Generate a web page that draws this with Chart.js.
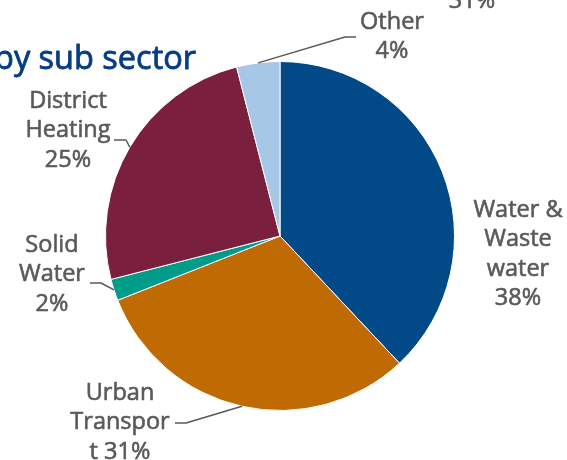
<!DOCTYPE html>
<html>
<head>
<meta charset="utf-8">
<script src="https://cdn.jsdelivr.net/npm/chart.js@4/dist/chart.umd.min.js"></script>
<style>
  html, body { margin: 0; padding: 0; background: #ffffff; }
  #wrap { width: 567px; height: 460px; position: relative; }
</style>
</head>
<body>
<div id="wrap"><canvas id="c" width="567" height="460"></canvas></div>
<script>
// Sub-sector shares (percent), clockwise from 12 o'clock
const sectors = ['Water & Waste water', 'Urban Transport', 'Solid Water', 'District Heating', 'Other'];
const shares = [38, 31, 2, 25, 4];
const sliceColors = ['#024a87', '#bf6a02', '#009c8a', '#7b1f3e', '#a7c7e6'];
// Text lines of each slice label (wrapped as in the original layout)
const labelLines = [
  ['Water &', 'Waste', 'water', '38%'],
  ['Urban', 'Transpor', 't 31%'],
  ['Solid', 'Water', '2%'],
  ['District', 'Heating', '25%'],
  ['Other', '4%']
];

// Where each label block sits and how its leader line bends (null = no leader)
const labelLayout = [
  { x: 518, y: 210, leader: null },
  { x: 120, y: 393, leader: { elbow: [186, 423], end: [175, 423] } },
  { x: 52,  y: 245, leader: { elbow: [101, 283], end: [90, 283] } },
  { x: 68,  y: 101, leader: { elbow: [126, 140], end: [114, 140] } },
  { x: 392, y: 22,  leader: { elbow: [345, 37], end: [356, 37] } }
];

const LABEL_FONT = '23.5px "Open Sans", "Liberation Sans", sans-serif';
const LABEL_COLOR = '#595959';
const LINE_H = 29.5;

// draws text with a hairline outline so the strokes read a little heavier
function heavyText(ctx, t, x, y, w) {
  ctx.lineWidth = w;
  ctx.strokeStyle = ctx.fillStyle;
  ctx.strokeText(t, x, y);
  ctx.fillText(t, x, y);
}

const sliceLabels = {
  id: 'sliceLabels',
  afterDatasetsDraw(chart) {
    const ctx = chart.ctx;
    const arcs = chart.getDatasetMeta(0).data;
    ctx.save();
    ctx.lineJoin = 'round';
    // header text, partly running off the left edge
    ctx.font = '32.5px "Open Sans", "Liberation Sans", sans-serif';
    ctx.fillStyle = '#053c83';
    ctx.textAlign = 'left';
    ctx.textBaseline = 'alphabetic';
    heavyText(ctx, 'by sub sector', -6, 69, 0.8);
    // neighbouring label cut by the top edge
    ctx.font = LABEL_FONT;
    ctx.fillStyle = LABEL_COLOR;
    ctx.textAlign = 'center';
    heavyText(ctx, '31%', 472, 8, 0.6);

    ctx.textBaseline = 'middle';
    arcs.forEach((arc, i) => {
      const lay = labelLayout[i];
      const lines = labelLines[i];
      ctx.fillStyle = LABEL_COLOR;
      lines.forEach((t, k) => heavyText(ctx, t, lay.x, lay.y + k * LINE_H, 0.6));
      if (lay.leader) {
        const p = arc.getProps(['x', 'y', 'startAngle', 'endAngle', 'outerRadius'], true);
        const mid = (p.startAngle + p.endAngle) / 2;
        const sx = p.x + Math.cos(mid) * p.outerRadius;
        const sy = p.y + Math.sin(mid) * p.outerRadius;
        ctx.beginPath();
        ctx.strokeStyle = '#595959';
        ctx.lineWidth = 1.5;
        ctx.moveTo(sx, sy);
        ctx.lineTo(lay.leader.elbow[0], lay.leader.elbow[1]);
        ctx.lineTo(lay.leader.end[0], lay.leader.end[1]);
        ctx.stroke();
      }
    });
    ctx.restore();
  }
};

new Chart(document.getElementById('c'), {
  type: 'pie',
  data: {
    labels: sectors,
    datasets: [{
      data: shares,
      backgroundColor: sliceColors,
      borderColor: '#ffffff',
      borderWidth: 1
    }]
  },
  options: {
    responsive: false,
    animation: false,
    layout: { padding: { left: 105, right: 112, top: 61, bottom: 49 } },
    plugins: {
      legend: { display: false },
      tooltip: { enabled: false },
      title: { display: false }
    }
  },
  plugins: [sliceLabels]
});
</script>
</body>
</html>
